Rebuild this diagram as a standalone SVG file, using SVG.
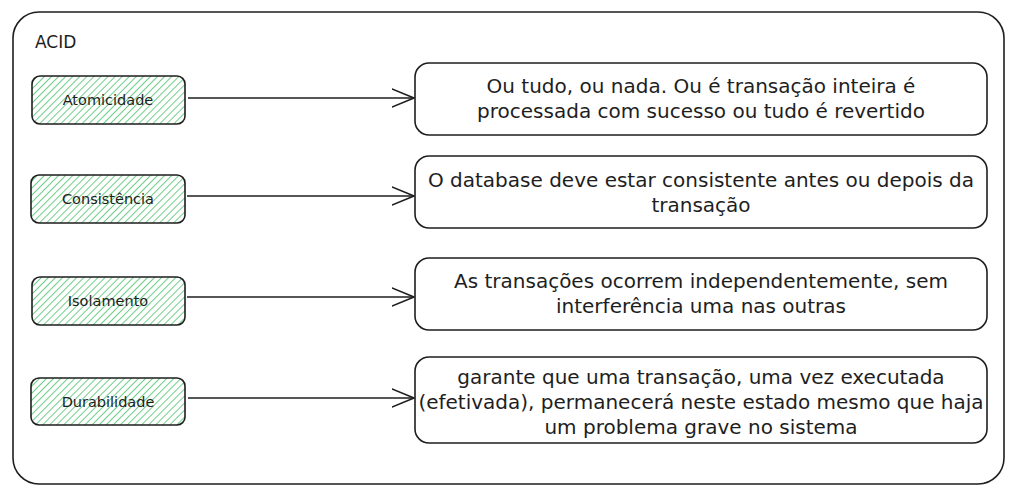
<svg xmlns="http://www.w3.org/2000/svg" width="1016" height="500" viewBox="0 0 1016 500">
<defs>
<pattern id="hatch" patternUnits="userSpaceOnUse" width="5" height="5" patternTransform="rotate(45)">
<rect width="5" height="5" fill="#ffffff"/>
<line x1="0" y1="0" x2="0" y2="5" stroke="#5fc97a" stroke-width="1.8"/>
</pattern>
<marker id="arr" markerWidth="24" markerHeight="20" refX="22" refY="10" orient="auto" markerUnits="userSpaceOnUse">
<path d="M0,1 L22,10 L0,19" fill="none" stroke="#1e1e1e" stroke-width="1.6" stroke-linecap="round" stroke-linejoin="round"/>
</marker>
</defs>
<style>
.frame{fill:#ffffff;stroke:#1e1e1e;stroke-width:1.6}
.key{fill:url(#hatch);stroke:#1e1e1e;stroke-width:1.6}
.desc{fill:#ffffff;stroke:#1e1e1e;stroke-width:1.6}
.conn{stroke:#1e1e1e;stroke-width:1.6;fill:none}
text{font-family:"DejaVu Sans","Liberation Sans",sans-serif;fill:#1e1e1e}
.lbl{font-size:14.5px;text-anchor:middle}
.dt{font-size:20px;text-anchor:middle}
.title{font-size:17px}
</style>
<rect width="1016" height="500" fill="#ffffff"/>
<g id="frame">
<rect class="frame" x="13" y="12" width="991" height="472" rx="26"/>
<text class="title" x="35" y="48">ACID</text>
</g>
<g id="atomicidade">
<rect class="key" x="32" y="76" width="153" height="48" rx="8"/>
<text class="lbl" x="108" y="105">Atomicidade</text>
</g>
<g id="consistencia">
<rect class="key" x="31" y="175" width="154" height="48" rx="8"/>
<text class="lbl" x="108" y="204">Consistência</text>
</g>
<g id="isolamento">
<rect class="key" x="32" y="277" width="153" height="48" rx="8"/>
<text class="lbl" x="108" y="306">Isolamento</text>
</g>
<g id="durabilidade">
<rect class="key" x="31" y="378" width="154" height="47" rx="8"/>
<text class="lbl" x="108" y="407">Durabilidade</text>
</g>
<g id="desc-atomicidade">
<rect class="desc" x="415" y="63" width="572" height="72" rx="14"/>
<text class="dt" x="701" y="93">Ou tudo, ou nada. Ou é transação inteira é</text>
<text class="dt" x="701" y="118">processada com sucesso ou tudo é revertido</text>
</g>
<g id="desc-consistencia">
<rect class="desc" x="415" y="156" width="572" height="72" rx="14"/>
<text class="dt" x="701" y="187">O database deve estar consistente antes ou depois da</text>
<text class="dt" x="701" y="212">transação</text>
</g>
<g id="desc-isolamento">
<rect class="desc" x="415" y="258" width="572" height="72" rx="14"/>
<text class="dt" x="701" y="288">As transações ocorrem independentemente, sem</text>
<text class="dt" x="701" y="313">interferência uma nas outras</text>
</g>
<g id="desc-durabilidade">
<rect class="desc" x="415" y="357" width="572" height="86" rx="14"/>
<text class="dt" x="701" y="384">garante que uma transação, uma vez executada</text>
<text class="dt" x="701" y="409">(efetivada), permanecerá neste estado mesmo que haja</text>
<text class="dt" x="701" y="434">um problema grave no sistema</text>
</g>
<g id="connectors">
<line class="conn" x1="188" y1="98" x2="414" y2="98" marker-end="url(#arr)"/>
<line class="conn" x1="187" y1="196" x2="414" y2="196" marker-end="url(#arr)"/>
<line class="conn" x1="187" y1="297" x2="414" y2="297" marker-end="url(#arr)"/>
<line class="conn" x1="188" y1="398" x2="414" y2="398" marker-end="url(#arr)"/>
</g>
</svg>
